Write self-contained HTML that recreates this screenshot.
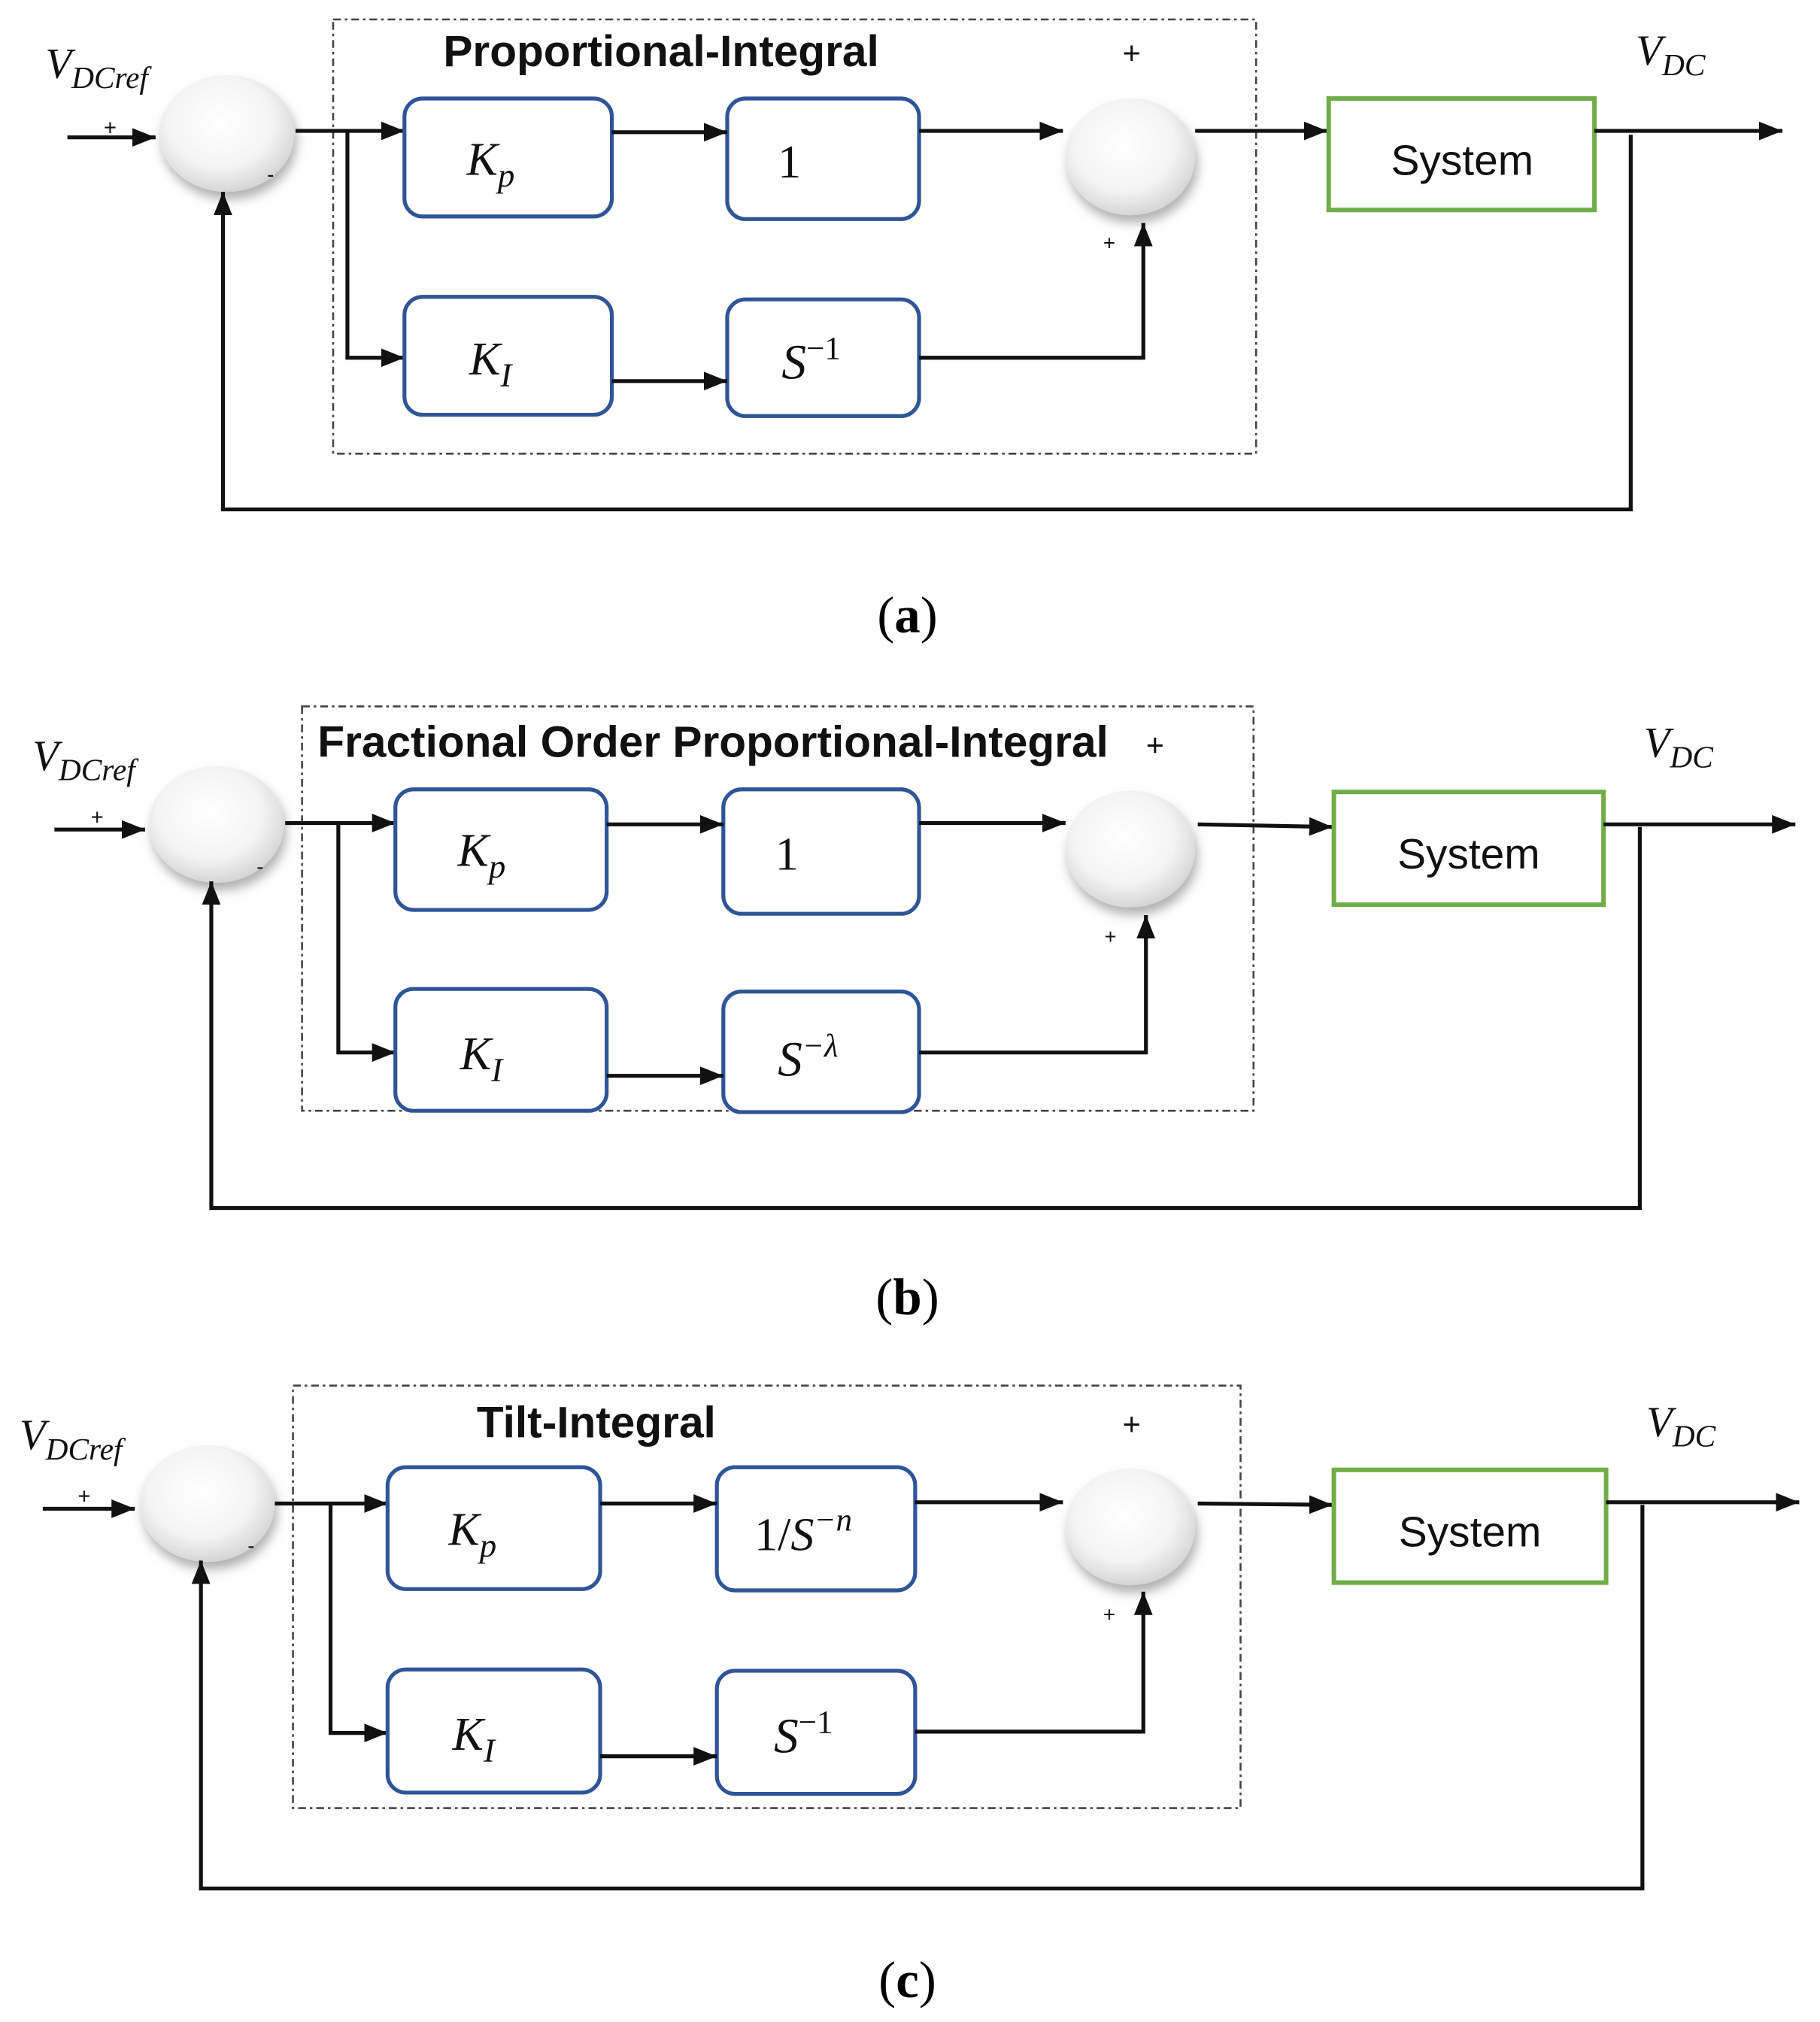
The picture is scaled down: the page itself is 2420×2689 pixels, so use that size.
<!DOCTYPE html>
<html><head><meta charset="utf-8"><style>
html,body{margin:0;padding:0;background:#fff}
svg{display:block}
.m{font-family:"Liberation Serif",serif;font-style:italic;fill:#111}
.n{font-style:normal}
.t{font-family:"Liberation Sans",sans-serif;fill:#111}
.b{fill:#fff;stroke:#2f5597;stroke-width:3}
.g{fill:#fff;stroke:#70ad47;stroke-width:3.5}
.l{stroke:#111;stroke-width:3;fill:none}
.d{fill:none;stroke:#444;stroke-width:1.5;stroke-dasharray:6 3 2 3}
</style></head><body>
<svg width="2420" height="2689" viewBox="0 0 1404 1560" preserveAspectRatio="none" xmlns="http://www.w3.org/2000/svg">
<defs>
<marker id="A" viewBox="0 0 10 10" refX="10" refY="5" markerWidth="18" markerHeight="18" markerUnits="userSpaceOnUse" orient="auto"><path d="M0,1L10,5L0,9z" fill="#111"/></marker>
<radialGradient id="sg" cx="0.45" cy="0.4" r="0.65"><stop offset="0" stop-color="#fff"/><stop offset="0.6" stop-color="#f4f4f4"/><stop offset="1" stop-color="#cfcfcf"/></radialGradient>
<filter id="sh" x="-30%" y="-30%" width="160%" height="170%"><feDropShadow dx="2" dy="6" stdDeviation="4" flood-color="#000" flood-opacity="0.3"/></filter>
</defs>

<!-- ===== Panel A ===== -->
<rect class="d" x="257" y="15" width="712" height="335"/>
<text class="t" x="510" y="51" font-size="34" font-weight="bold" text-anchor="middle">Proportional-Integral</text>
<text class="m" x="35" y="60" font-size="33">V<tspan font-size="24" dy="8">DCref</tspan></text>
<text class="t" x="80" y="104" font-size="17">+</text>
<line class="l" x1="52" y1="106" x2="120" y2="106" marker-end="url(#A)"/>
<ellipse cx="175" cy="103" rx="52" ry="45" fill="url(#sg)" filter="url(#sh)"/>
<text class="t" x="206" y="140" font-size="16">-</text>
<line class="l" x1="228" y1="101" x2="312" y2="101" marker-end="url(#A)"/>
<polyline class="l" points="268,101 268,276 312,276" marker-end="url(#A)"/>
<rect class="b" x="312" y="76" width="160" height="91" rx="14"/>
<text class="m" x="360" y="135" font-size="36">K<tspan font-size="26" dy="9">p</tspan></text>
<rect class="b" x="561" y="76" width="148" height="93" rx="14"/>
<text class="m" x="600" y="137" font-size="36" style="font-style:normal">1</text>
<rect class="b" x="312" y="229" width="160" height="91" rx="14"/>
<text class="m" x="362" y="289" font-size="36">K<tspan font-size="26" dy="9">I</tspan></text>
<rect class="b" x="561" y="231" width="148" height="90" rx="14"/>
<text class="m" x="603" y="292" font-size="38">S<tspan font-size="25" dy="-15" style="font-style:normal">−1</tspan></text>
<line class="l" x1="472" y1="102" x2="561" y2="102" marker-end="url(#A)"/>
<line class="l" x1="709" y1="101" x2="820" y2="101" marker-end="url(#A)"/>
<line class="l" x1="472" y1="294" x2="561" y2="294" marker-end="url(#A)"/>
<polyline class="l" points="709,276 882,276 882,172" marker-end="url(#A)"/>
<ellipse cx="872" cy="121" rx="50" ry="45" fill="url(#sg)" filter="url(#sh)"/>
<text class="t" x="866" y="49" font-size="24">+</text>
<text class="t" x="851" y="193" font-size="16">+</text>
<line class="l" x1="922" y1="101" x2="1024" y2="101" marker-end="url(#A)"/>
<rect class="g" x="1025" y="76" width="205" height="86"/>
<text class="t" x="1128" y="135" font-size="33" text-anchor="middle">System</text>
<text class="m" x="1262" y="50" font-size="33">V<tspan font-size="24" dy="8">DC</tspan></text>
<line class="l" x1="1230" y1="101" x2="1375" y2="101" stroke="#555" marker-end="url(#A)"/>
<polyline class="l" points="1258,104 1258,393 172,393 172,148" marker-end="url(#A)"/>
<text x="700" y="488" font-family="Liberation Serif,serif" font-size="40" text-anchor="middle">(<tspan font-weight="bold">a</tspan>)</text>

<!-- ===== Panel B ===== -->
<rect class="d" x="233" y="545" width="734" height="312"/>
<text class="t" x="245" y="584" font-size="34" font-weight="bold">Fractional Order Proportional-Integral</text>
<text class="t" x="884" y="583" font-size="24">+</text>
<text class="m" x="25" y="594" font-size="33">V<tspan font-size="24" dy="8">DCref</tspan></text>
<text class="t" x="70" y="636" font-size="17">+</text>
<line class="l" x1="42" y1="640" x2="112" y2="640" marker-end="url(#A)"/>
<ellipse cx="167" cy="636" rx="52" ry="45" fill="url(#sg)" filter="url(#sh)"/>
<text class="t" x="198" y="674" font-size="16">-</text>
<line class="l" x1="220" y1="635" x2="305" y2="635" marker-end="url(#A)"/>
<polyline class="l" points="261,635 261,812 305,812" marker-end="url(#A)"/>
<rect class="b" x="305" y="609" width="163" height="93" rx="14"/>
<text class="m" x="353" y="668" font-size="36">K<tspan font-size="26" dy="9">p</tspan></text>
<rect class="b" x="558" y="609" width="151" height="96" rx="14"/>
<text class="m" x="598" y="671" font-size="36" style="font-style:normal">1</text>
<rect class="b" x="305" y="763" width="163" height="94" rx="14"/>
<text class="m" x="355" y="825" font-size="36">K<tspan font-size="26" dy="9">I</tspan></text>
<rect class="b" x="558" y="765" width="151" height="93" rx="14"/>
<text class="m" x="600" y="830" font-size="38">S<tspan font-size="25" dy="-15">−λ</tspan></text>
<line class="l" x1="468" y1="636" x2="558" y2="636" marker-end="url(#A)"/>
<line class="l" x1="709" y1="635" x2="822" y2="635" marker-end="url(#A)"/>
<line class="l" x1="468" y1="830" x2="558" y2="830" marker-end="url(#A)"/>
<polyline class="l" points="709,812 884,812 884,706" marker-end="url(#A)"/>
<ellipse cx="872" cy="655" rx="50" ry="45" fill="url(#sg)" filter="url(#sh)"/>
<text class="t" x="852" y="728" font-size="16">+</text>
<line class="l" x1="924" y1="636" x2="1028" y2="638" marker-end="url(#A)"/>
<rect class="g" x="1029" y="611" width="208" height="87"/>
<text class="t" x="1133" y="670" font-size="33" text-anchor="middle">System</text>
<text class="m" x="1268" y="584" font-size="33">V<tspan font-size="24" dy="8">DC</tspan></text>
<line class="l" x1="1237" y1="636" x2="1385" y2="636" stroke="#555" marker-end="url(#A)"/>
<polyline class="l" points="1265,638 1265,932 163,932 163,680" marker-end="url(#A)"/>
<text x="700" y="1014" font-family="Liberation Serif,serif" font-size="40" text-anchor="middle">(<tspan font-weight="bold">b</tspan>)</text>

<!-- ===== Panel C ===== -->
<rect class="d" x="226" y="1069" width="731" height="326"/>
<text class="t" x="460" y="1109" font-size="34" font-weight="bold" text-anchor="middle">Tilt-Integral</text>
<text class="t" x="866" y="1107" font-size="24">+</text>
<text class="m" x="15" y="1118" font-size="33">V<tspan font-size="24" dy="8">DCref</tspan></text>
<text class="t" x="60" y="1160" font-size="17">+</text>
<line class="l" x1="33" y1="1164" x2="104" y2="1164" marker-end="url(#A)"/>
<ellipse cx="160" cy="1160" rx="52" ry="45" fill="url(#sg)" filter="url(#sh)"/>
<text class="t" x="191" y="1198" font-size="16">-</text>
<line class="l" x1="212" y1="1160" x2="299" y2="1160" marker-end="url(#A)"/>
<polyline class="l" points="255,1160 255,1337 299,1337" marker-end="url(#A)"/>
<rect class="b" x="299" y="1132" width="164" height="94" rx="14"/>
<text class="m" x="346" y="1192" font-size="36">K<tspan font-size="26" dy="9">p</tspan></text>
<rect class="b" x="553" y="1132" width="153" height="95" rx="14"/>
<text class="m" x="582" y="1196" font-size="36"><tspan style="font-style:normal">1/</tspan>S<tspan font-size="25" dy="-15">−n</tspan></text>
<rect class="b" x="299" y="1288" width="164" height="95" rx="14"/>
<text class="m" x="349" y="1350" font-size="36">K<tspan font-size="26" dy="9">I</tspan></text>
<rect class="b" x="553" y="1289" width="153" height="95" rx="14"/>
<text class="m" x="597" y="1352" font-size="38">S<tspan font-size="25" dy="-15" style="font-style:normal">−1</tspan></text>
<line class="l" x1="463" y1="1160" x2="553" y2="1160" marker-end="url(#A)"/>
<line class="l" x1="706" y1="1159" x2="820" y2="1159" marker-end="url(#A)"/>
<line class="l" x1="463" y1="1355" x2="553" y2="1355" marker-end="url(#A)"/>
<polyline class="l" points="706,1336 882,1336 882,1228" marker-end="url(#A)"/>
<ellipse cx="872" cy="1178" rx="50" ry="45" fill="url(#sg)" filter="url(#sh)"/>
<text class="t" x="851" y="1251" font-size="16">+</text>
<line class="l" x1="924" y1="1160" x2="1028" y2="1161" marker-end="url(#A)"/>
<rect class="g" x="1029" y="1134" width="210" height="87"/>
<text class="t" x="1134" y="1193" font-size="33" text-anchor="middle">System</text>
<text class="m" x="1270" y="1108" font-size="33">V<tspan font-size="24" dy="8">DC</tspan></text>
<line class="l" x1="1239" y1="1159" x2="1388" y2="1159" stroke="#555" marker-end="url(#A)"/>
<polyline class="l" points="1267,1161 1267,1457 155,1457 155,1204" marker-end="url(#A)"/>
<text x="700" y="1541" font-family="Liberation Serif,serif" font-size="40" text-anchor="middle">(<tspan font-weight="bold">c</tspan>)</text>
</svg>
</body></html>
